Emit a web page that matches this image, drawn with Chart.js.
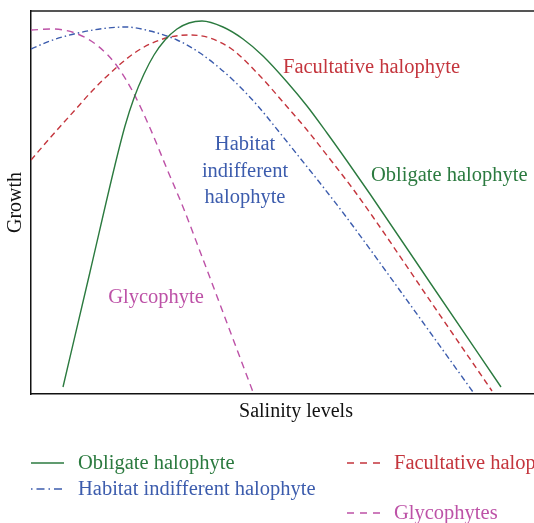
<!DOCTYPE html>
<html>
<head>
<meta charset="utf-8">
<script src="https://cdn.jsdelivr.net/npm/chart.js@4.4.1/dist/chart.umd.min.js"></script>
<style>
  html, body { margin: 0; padding: 0; background: #fff; }
  #frame { width: 534px; height: 523px; overflow: hidden; }
  #wrap { width: 575px; height: 523px; }
</style>
</head>
<body>
<div id="frame"><div id="wrap"><canvas id="chart"></canvas></div></div>
<script>
// schematic response curves, arbitrary units (salinity 0-530, growth 0-383)
const obligateX = [32, 59, 84, 94, 103, 113, 123, 134, 146, 158, 171, 192, 212, 232, 256, 276, 296, 316, 339, 400, 470];
const obligateY = [7, 122, 229, 268, 296, 320, 339, 354, 365, 371, 373, 367, 355, 338, 312, 288, 261, 233, 200, 110, 7];

const facultativeX = [0, 19, 44, 62, 86, 102, 119, 139, 159, 179, 202, 229, 252, 276, 302, 322, 342, 400, 461];
const facultativeY = [234, 256, 284, 304, 327, 340, 350, 357, 359, 356, 344, 318, 292, 264, 231, 205, 177, 92, 3];

const habitatX = [0, 19, 47, 77, 95, 119, 146, 169, 202, 226, 249, 269, 289, 316, 370, 442];
const habitatY = [345, 353, 361, 366, 367, 363, 354, 341, 314, 289, 261, 236, 211, 176, 102, 2];

const glycoX = [0, 21, 44, 67, 86, 102, 119, 136, 152, 170, 196, 222];
const glycoY = [364, 365, 361, 348, 328, 302, 266, 225, 187, 140, 71, 2];

const seriesNames = ['Obligate halophyte', 'Facultative halophyte', 'Habitat indifferent halophyte', 'Glycophytes'];

const GREEN = '#2b7a3f', RED = '#c4353d', BLUE = '#3c5cad', MAGENTA = '#bd52a7';
const SERIF = "'Liberation Serif', 'Times New Roman', serif";
const TEXT_FONT = '20.5px ' + SERIF;

const pts = (xs, ys) => xs.map((x, i) => ({ x, y: ys[i] }));

function line(label, data, color, dash, legendDash) {
  return {
    label, data,
    borderColor: color,
    borderWidth: 1.4,
    borderDash: dash,
    legendDash,
    pointRadius: 0,
    fill: false,
    cubicInterpolationMode: 'monotone'
  };
}

// text written next to each curve, in data units
const curveLabels = [
  { lines: ['Facultative halophyte'], x: 252, y: 326, color: RED, align: 'left' },
  { lines: ['Obligate halophyte'], x: 340, y: 218, color: GREEN, align: 'left' },
  { lines: ['Habitat', 'indifferent', 'halophyte'], x: 214, y: 249, color: BLUE, align: 'center' },
  { lines: ['Glycophyte'], x: 125, y: 96, color: MAGENTA, align: 'center' }
];

const curveLabelPlugin = {
  id: 'curveLabels',
  afterDatasetsDraw(chart) {
    const { ctx, scales: { x, y } } = chart;
    ctx.save();
    ctx.font = TEXT_FONT;
    ctx.textBaseline = 'middle';
    curveLabels.forEach(l => {
      ctx.fillStyle = l.color;
      ctx.textAlign = l.align;
      l.lines.forEach((t, i) => {
        ctx.fillText(t, x.getPixelForValue(l.x), y.getPixelForValue(l.y) + i * 26.5);
      });
    });
    ctx.restore();
  }
};

// two-column legend under the plot (dataset index, column, row)
const legendSlots = [
  { ds: 0, col: 0, row: 0 },
  { ds: 2, col: 0, row: 1 },
  { ds: 1, col: 1, row: 0 },
  { ds: 3, col: 1, row: 2 }
];

const legendPlugin = {
  id: 'sketchLegend',
  afterDraw(chart) {
    const { ctx } = chart;
    const colX = [31, 347], rowY = [463, 489, 513];
    ctx.save();
    ctx.font = TEXT_FONT;
    ctx.textBaseline = 'middle';
    ctx.textAlign = 'left';
    legendSlots.forEach(s => {
      const d = chart.data.datasets[s.ds];
      const x0 = colX[s.col], yy = rowY[s.row];
      ctx.strokeStyle = d.borderColor;
      ctx.lineWidth = 1.4;
      ctx.setLineDash(d.legendDash);
      ctx.beginPath();
      ctx.moveTo(x0, yy);
      ctx.lineTo(x0 + 33, yy);
      ctx.stroke();
      ctx.setLineDash([]);
      ctx.fillStyle = d.borderColor;
      ctx.fillText(d.label, x0 + 47, yy + 1);
    });
    ctx.restore();
  }
};

new Chart(document.getElementById('chart'), {
  type: 'line',
  data: {
    datasets: [
      line(seriesNames[0], pts(obligateX, obligateY), GREEN, [], []),
      line(seriesNames[1], pts(facultativeX, facultativeY), RED, [6, 4], [7, 6]),
      line(seriesNames[2], pts(habitatX, habitatY), BLUE, [6, 3, 1.5, 3], [1.5, 4, 8, 4]),
      line(seriesNames[3], pts(glycoX, glycoY), MAGENTA, [7, 5], [7, 6])
    ]
  },
  options: {
    responsive: true, maintainAspectRatio: false,
    animation: false,
    layout: { padding: { left: 0, top: 11, right: 14, bottom: 99 } },
    plugins: { legend: { display: false }, tooltip: { enabled: false } },
    scales: {
      x: {
        type: 'linear', min: 0, max: 530,
        ticks: { display: false },
        grid: { display: false, drawTicks: false },
        border: { color: '#111', width: 1.5 },
        title: { display: true, text: 'Salinity levels', color: '#111', font: { family: SERIF, size: 20, lineHeight: 1.2 }, padding: { top: 6, bottom: 0 } }
      },
      top: {
        type: 'linear', position: 'top', min: 0, max: 1,
        ticks: { display: false },
        grid: { display: false, drawTicks: false },
        border: { color: '#555', width: 2 }
      },
      y: {
        min: 0, max: 383,
        ticks: { display: false },
        grid: { display: false, drawTicks: false },
        border: { color: '#111', width: 1.5 },
        title: { display: true, text: 'Growth', color: '#111', font: { family: SERIF, size: 20, lineHeight: 1.2 }, padding: { top: 4, bottom: 3 } }
      }
    }
  },
  plugins: [curveLabelPlugin, legendPlugin]
});
</script>
</body>
</html>
